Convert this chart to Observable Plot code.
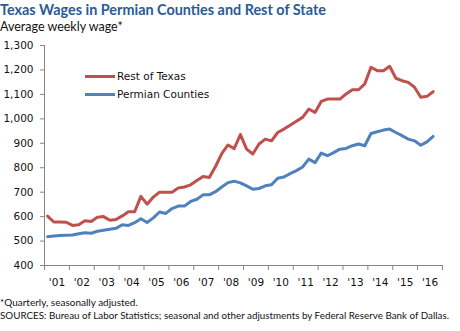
<!DOCTYPE html>
<html>
<head>
<meta charset="utf-8">
<script src="https://cdn.jsdelivr.net/npm/d3@7"></script>
<script src="https://cdn.jsdelivr.net/npm/@observablehq/plot@0.6"></script>
<style>
  html, body { margin: 0; padding: 0; background: #fff; }
  #wrap { position: relative; width: 460px; height: 331px; overflow: hidden; font-family: Lato, "Open Sans", sans-serif; }
  #title { position: absolute; left: 0; top: 1px; font-weight: bold; font-size: 14.4px; color: #2c5a93; white-space: nowrap; }
  #subtitle { position: absolute; left: 0; top: 19px; font-size: 12.5px; color: #111; white-space: nowrap; }
  #chart { position: absolute; left: 0; top: 35px; }
  #legend { position: absolute; left: 85px; top: 67px; font-family: "DejaVu Sans", sans-serif; font-size: 10.5px; color: #111; }
  #legend .row { display: flex; align-items: center; height: 18px; }
  #legend .sw { width: 30px; height: 3px; margin-right: 2px; }
  #notes { position: absolute; left: 0; top: 294px; }
  #notes text { font-family: Lato, "Open Sans", sans-serif; font-size: 10px; fill: #111; }
</style>
</head>
<body>
<div id="wrap">
  <div id="title">Texas Wages in Permian Counties and Rest of State</div>
  <div id="subtitle">Average weekly wage*</div>
  <div id="chart"></div>
  <div id="legend"></div>
  <svg id="notes" width="460" height="32">
    <text x="0" y="12">*Quarterly, seasonally adjusted.</text>
    <text x="0" y="25" textLength="449" lengthAdjust="spacingAndGlyphs">SOURCES: Bureau of Labor Statistics; seasonal and other adjustments by Federal Reserve Bank of Dallas.</text>
  </svg>
</div>
<script>
// Quarterly data, 2001Q1 .. 2016Q3
const startYear = 2001;
const restOfTexas = [
  602, 578, 578, 577, 564, 567, 583, 580, 597, 600, 585, 588,
  603, 620, 620, 683, 651, 680, 700, 700, 700, 717, 721, 730,
  748, 764, 760, 805, 858, 893, 878, 936, 876, 856, 897, 917,
  910, 944, 958, 974, 990, 1006, 1040, 1026, 1071, 1081, 1081, 1081,
  1102, 1119, 1119, 1143, 1211, 1197, 1197, 1215, 1166, 1156, 1149, 1129,
  1088, 1092, 1111
];
const permianCounties = [
  518, 521, 523, 524, 525, 530, 534, 532, 540, 544, 548, 552,
  567, 564, 575, 591, 576, 595, 619, 613, 633, 643, 643, 662,
  671, 689, 689, 702, 721, 739, 745, 738, 726, 712, 715, 726,
  730, 757, 762, 776, 788, 803, 835, 821, 860, 849, 862, 876,
  879, 890, 897, 890, 940, 947, 954, 958, 944, 931, 917, 910,
  892, 906, 928
];
const seriesNames = ["Rest of Texas", "Permian Counties"];
const seriesColors = ["#c0504d", "#4f81bd"];
const yTicks = [400, 500, 600, 700, 800, 900, 1000, 1100, 1200, 1300];
const years = d3.range(2001, 2017);
const yearLabels = ["'01","'02","'03","'04","'05","'06","'07","'08","'09","'10","'11","'12","'13","'14","'15","'16"];

const rows = [];
[restOfTexas, permianCounties].forEach((arr, s) => {
  arr.forEach((v, i) => rows.push({series: seriesNames[s], t: startYear + (i + 0.5) / 4, value: v}));
});

const axisColor = "#868686";
const chart = Plot.plot({
  width: 460,
  height: 260,
  marginTop: 10,
  marginBottom: 30,
  marginLeft: 44,
  marginRight: 18,
  style: {fontFamily: "'DejaVu Sans', sans-serif", fontSize: "10.5px", color: "#111", background: "transparent"},
  x: {domain: [2001, 2017]},
  y: {domain: [400, 1300]},
  color: {domain: seriesNames, range: seriesColors},
  marks: [
    Plot.axisY({ticks: yTicks, tickSize: 4, tickPadding: 7, tickFormat: d3.format(","), stroke: axisColor, label: null, fill: "#111"}),
    Plot.axisX({ticks: d3.range(2001, 2018), tickSize: 5, tickFormat: () => "", stroke: axisColor, label: null}),
    Plot.ruleX([2001], {stroke: axisColor}),
    Plot.ruleY([400], {stroke: axisColor}),
    Plot.text(years, {x: (d) => d + 0.5, y: 400, text: (d, i) => yearLabels[i], dy: 17, fill: "#111"}),
    Plot.line(rows, {x: "t", y: "value", z: "series", stroke: "series", strokeWidth: 3, strokeLinejoin: "round", strokeLinecap: "round"})
  ]
});
document.getElementById("chart").appendChild(chart);

const legend = document.getElementById("legend");
seriesNames.forEach((n, i) => {
  const row = document.createElement("div");
  row.className = "row";
  row.innerHTML = `<div class="sw" style="background:${seriesColors[i]}"></div><span>${n}</span>`;
  legend.appendChild(row);
});
</script>
</body>
</html>
